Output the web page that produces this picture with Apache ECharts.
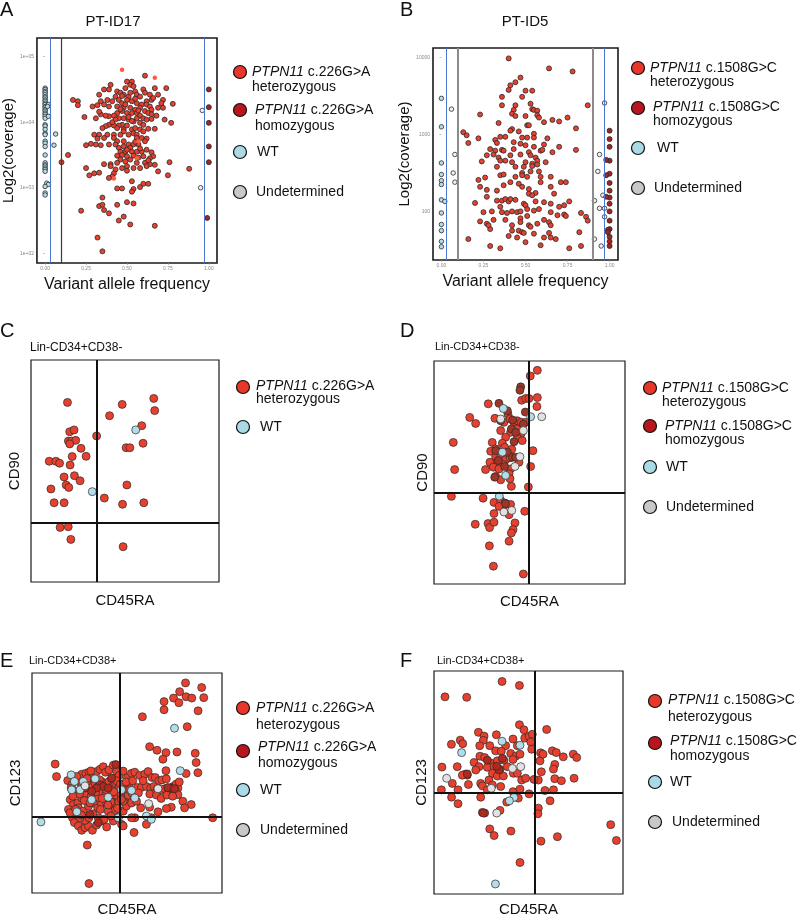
<!DOCTYPE html>
<html><head><meta charset="utf-8">
<script src="https://cdn.jsdelivr.net/npm/echarts@6/dist/echarts.min.js"></script>
<style>html,body{margin:0;padding:0;background:#fff}#c{width:800px;height:918px}</style>
</head><body><div id="c"></div><script>
// ---------- Panel A (PT-ID17): [VAF, log10 coverage] ----------
const aHet = [[0.61,4.71],[0.50,4.62],[0.53,4.62],[0.52,4.57],[0.54,4.55],[0.49,4.52],[0.55,4.47],[0.60,4.50],[0.67,4.52],[0.74,4.52],
[0.40,4.57],[0.39,4.50],[0.36,4.50],[0.33,4.42],[0.44,4.47],[0.46,4.45],[0.48,4.42],[0.43,4.39],[0.51,4.39],[0.56,4.42],
[0.58,4.39],[0.61,4.45],[0.64,4.42],[0.69,4.42],[0.65,4.34],[0.62,4.32],[0.66,4.37],[0.38,4.34],[0.41,4.32],[0.45,4.34],
[0.47,4.29],[0.50,4.34],[0.53,4.32],[0.56,4.29],[0.59,4.27],[0.62,4.27],[0.64,4.24],[0.65,4.19],[0.72,4.34],[0.71,4.29],
[0.78,4.28],[0.72,4.22],[0.69,4.22],[0.17,4.34],[0.20,4.32],[0.20,4.26],[0.29,4.24],[0.32,4.26],[0.34,4.32],[0.36,4.27],
[0.39,4.24],[0.44,4.24],[0.48,4.22],[0.52,4.22],[0.55,4.19],[0.58,4.22],[0.61,4.17],[0.63,4.14],[0.65,4.12],[0.44,4.14],
[0.47,4.17],[0.50,4.14],[0.53,4.14],[0.56,4.14],[0.58,4.10],[0.60,4.06],[0.42,4.10],[0.39,4.09],[0.37,4.10],[0.34,4.12],
[0.31,4.06],[0.33,4.16],[0.24,4.08],[0.68,4.10],[0.73,4.04],[0.77,3.99],[0.65,4.05],[0.62,4.04],[0.56,4.06],[0.51,4.04],
[0.48,4.06],[0.45,4.06],[0.43,4.04],[0.54,4.01],[0.58,3.99],[0.60,3.96],[0.50,3.95],[0.47,3.96],[0.45,3.95],[0.42,3.95],
[0.39,3.96],[0.37,3.94],[0.35,3.91],[0.44,3.91],[0.48,3.89],[0.53,3.89],[0.55,3.91],[0.58,3.89],[0.60,3.86],[0.63,3.90],
[0.67,3.90],[0.54,3.83],[0.56,3.81],[0.51,3.81],[0.46,3.81],[0.42,3.81],[0.38,3.81],[0.33,3.81],[0.30,3.81],[0.32,3.75],
[0.36,3.76],[0.42,3.76],[0.44,3.71],[0.48,3.71],[0.51,3.66],[0.56,3.76],[0.59,3.76],[0.62,3.75],[0.61,3.71],[0.57,3.66],
[0.54,3.66],[0.52,3.61],[0.48,3.63],[0.45,3.61],[0.43,3.66],[0.39,3.66],[0.34,3.65],[0.31,3.66],[0.28,3.67],[0.25,3.65],
[0.46,3.55],[0.49,3.55],[0.53,3.55],[0.56,3.55],[0.59,3.55],[0.62,3.58],[0.65,3.54],[0.66,3.48],[0.64,3.45],[0.60,3.48],
[0.57,3.46],[0.54,3.49],[0.50,3.48],[0.47,3.50],[0.44,3.49],[0.46,3.43],[0.49,3.40],[0.52,3.43],[0.56,3.38],[0.61,3.38],
[0.64,3.36],[0.67,3.35],[0.76,3.39],[0.44,3.38],[0.40,3.36],[0.36,3.36],[0.25,3.30],[0.30,3.22],[0.33,3.23],[0.27,3.19],
[0.40,3.33],[0.43,3.28],[0.42,3.22],[0.41,3.17],[0.39,3.15],[0.50,3.33],[0.54,3.30],[0.50,3.26],[0.58,3.30],[0.62,3.33],
[0.69,3.25],[0.75,3.19],[0.88,3.29],[0.10,3.39],[0.14,3.50],[0.44,2.99],[0.47,2.99],[0.53,3.10],[0.54,2.98],[0.58,3.01],
[0.60,3.06],[0.63,3.06],[0.53,2.94],[0.35,2.85],[0.44,2.74],[0.50,2.78],[0.54,2.76],[0.33,2.72],[0.35,2.74],[0.36,2.66],
[0.39,2.61],[0.22,2.65],[0.45,2.50],[0.48,2.56],[0.52,2.44],[0.67,2.42],[0.32,2.24],[0.35,2.03],
[0.47,4.40],[0.52,4.45],[0.55,4.36],[0.49,4.27],[0.57,4.18],[0.46,4.20],[0.51,4.08],[0.53,4.02],[0.41,4.00],[0.48,3.86],
[0.55,3.70],[0.50,3.58],[0.58,3.60],[0.63,3.42],[0.47,3.30]];
const aHetFaint = [[0.47,4.80],[0.67,4.68],[0.42,3.14],[0.57,3.71],[0.56,3.45]];
const aHom = [[1.0,4.50],[1.0,4.23],[1.0,3.99],[1.0,3.63],[1.0,3.39],[0.99,2.54]];
const aWT = [[0,4.52],[0,4.50],[0,4.47],[0,4.45],[0,4.42],[0,4.39],[0,4.37],[0,4.34],[0,4.32],[0,4.29],[0,4.27],[0,4.24],
[0,4.22],[0,4.19],[0,4.17],[0,4.14],[0,4.12],[0,4.09],[0,4.06],[0.02,4.27],[0.02,4.09],[0.015,4.24],[0,3.96],[0,3.94],
[0,3.89],[0,3.83],[0,3.81],[0,3.71],[0,3.68],[0,3.63],[0,3.50],[0,3.38],[0,3.35],[0,3.33],[0,3.30],[0,3.28],[0,3.25],
[0.01,3.07],[0.02,3.05],[0,3.02],[0,2.92],[0,2.89],[0.064,3.82],[0.054,3.65]];
const aUnd = [[0.96,4.18],[0.95,3.00]];
const aBlueLines = [0.03, 0.97];
const aGrayLines = [0.1];

// ---------- Panel B (PT-ID5) ----------
const bHet = [[0.40,3.99],[0.64,3.86],[0.78,3.82],[0.47,3.74],[0.44,3.68],[0.41,3.64],[0.40,3.58],[0.50,3.57],[0.54,3.57],[0.36,3.49],
[0.48,3.49],[0.36,3.38],[0.44,3.38],[0.53,3.40],[0.54,3.33],[0.55,3.32],[0.57,3.31],[0.43,3.32],[0.42,3.27],[0.44,3.24],
[0.50,3.24],[0.57,3.25],[0.58,3.22],[0.23,3.26],[0.87,3.38],[0.75,3.22],[0.70,3.17],[0.66,3.19],[0.61,3.16],[0.34,3.15],
[0.51,3.12],[0.52,3.12],[0.42,3.07],[0.41,3.05],[0.80,3.08],[0.13,3.03],[0.15,2.99],[0.16,2.89],[0.22,2.95],[0.32,2.93],
[0.35,2.97],[0.38,2.97],[0.46,3.04],[0.48,2.96],[0.51,2.96],[0.55,3.01],[0.55,2.96],[0.33,2.89],[0.43,2.90],[0.47,2.88],
[0.50,2.86],[0.55,2.84],[0.63,2.95],[0.61,2.87],[0.70,2.84],[0.80,2.80],[0.29,2.81],[0.32,2.79],[0.36,2.80],[0.37,2.79],
[0.43,2.81],[0.52,2.77],[0.59,2.79],[0.60,2.80],[0.66,2.77],[0.27,2.73],[0.31,2.74],[0.34,2.70],[0.41,2.73],[0.47,2.74],
[0.53,2.73],[0.56,2.70],[0.57,2.66],[0.24,2.65],[0.35,2.66],[0.38,2.66],[0.42,2.64],[0.50,2.64],[0.54,2.62],[0.62,2.64],
[0.33,2.58],[0.44,2.58],[0.49,2.58],[0.54,2.59],[0.57,2.61],[0.53,2.52],[0.48,2.50],[0.58,2.52],[0.35,2.47],[0.37,2.48],
[0.44,2.45],[0.48,2.47],[0.51,2.45],[0.59,2.45],[0.65,2.45],[0.71,2.38],[0.74,2.38],[0.22,2.41],[0.26,2.44],[0.23,2.32],
[0.27,2.28],[0.33,2.27],[0.37,2.34],[0.41,2.38],[0.46,2.36],[0.48,2.32],[0.52,2.29],[0.56,2.24],[0.59,2.38],[0.65,2.32],
[0.67,2.23],[0.27,2.19],[0.33,2.14],[0.36,2.14],[0.38,2.16],[0.40,2.13],[0.41,2.16],[0.44,2.15],[0.49,2.10],[0.50,2.08],
[0.52,2.23],[0.54,2.21],[0.56,2.13],[0.61,2.12],[0.65,2.10],[0.70,2.06],[0.73,2.08],[0.76,2.13],[0.20,2.11],[0.25,1.99],
[0.30,2.00],[0.35,2.06],[0.36,1.99],[0.39,1.98],[0.42,2.00],[0.45,1.99],[0.47,2.00],[0.51,2.03],[0.55,2.01],[0.58,2.03],
[0.65,1.99],[0.69,1.95],[0.73,1.96],[0.74,1.94],[0.83,1.98],[0.86,1.93],[0.87,1.88],[0.23,1.87],[0.27,1.84],[0.29,1.77],
[0.28,1.82],[0.31,1.89],[0.38,1.89],[0.42,1.82],[0.42,1.75],[0.47,1.91],[0.47,1.86],[0.46,1.75],[0.48,1.73],[0.49,1.72],
[0.51,1.94],[0.52,1.82],[0.53,1.80],[0.55,1.71],[0.57,1.84],[0.61,1.89],[0.64,1.86],[0.65,1.82],[0.64,1.72],[0.65,1.66],
[0.68,1.64],[0.59,1.56],[0.40,1.68],[0.45,1.66],[0.50,1.60],[0.61,1.66],[0.16,1.64],[0.29,1.55],[0.35,1.52],[0.76,1.52],
[0.83,1.55],[0.82,1.73]];
const bHom = [[1.0,3.05],[1.0,2.94],[1.0,2.84],[1.0,2.66],[1.0,2.49],[1.0,2.37],[1.0,2.27],[1.0,2.18],[1.0,2.10],[1.0,2.00],
[1.0,1.88],[1.0,1.77],[1.0,1.67],[1.0,1.61],[1.0,1.55],[0.98,2.47],[0.98,2.67],[0.98,2.19],[0.99,1.76],[0.99,1.73]];
const bWT = [[0,3.47],[0,3.10],[0,2.63],[0,2.48],[0,2.40],[0,2.35],[0,2.15],[0.02,2.13],[0,1.98],[0,1.83],[0,1.75],[0,1.61],[0,1.54]];
const bUnd = [[0.06,3.33],[0.08,2.74],[0.07,2.50],[0.08,2.38],[0.97,3.41],[0.94,2.74],[0.93,2.52],[0.91,2.14],[0.94,2.04],
[0.97,2.04],[0.96,2.21],[0.97,1.93],[0.91,1.64],[0.95,1.55]];
const bBlueLines = [0.03, 0.97];
const bGrayLines = [0.1, 0.9];

const vafTicks = [0, 0.25, 0.5, 0.75, 1];
const aCovTicks = [2, 3, 4, 5];
const bCovTicks = [2, 3, 4];

// ---------- Panel C (CD45RA vs CD90, Lin-CD34+CD38-) ----------
const cHet = [[19.4,80.9],[48.5,80.0],[65.3,82.7],[65.8,77.2],[41.8,74.9],[58.9,70.4],[20.6,67.7],[22.9,68.5],[34.9,65.8],[19.9,63.5],
[21.5,63.5],[23.8,63.8],[20.6,62.2],[26.6,60.2],[50.6,60.5],[52.6,60.5],[59.6,62.5],[21.9,56.5],[29.3,56.6],[9.7,54.4],
[13.2,54.4],[15.2,53.5],[20.8,52.7],[17.6,47.3],[23.1,47.9],[26.1,45.6],[18.7,43.7],[20.1,42.6],[10.6,41.9],[51.0,43.7],
[39.0,37.8],[12.3,35.7],[17.6,35.7],[48.7,35.0],[60.0,35.7],[15.5,24.6],[19.8,24.9],[21.2,19.2],[49.0,15.9]];
const cWT = [[55.7,68.5],[32.6,40.7]];
const cGate = [34.9, 26.6];

// ---------- Panel D ----------
const dHet = [[54.1,95.8],[50.4,93.3],[45.9,82.4],[48.0,83.2],[49.7,83.2],[54.1,83.6],[53.9,79.6],[28.4,80.8],[18.7,74.7],[21.8,72.0],
[31.9,74.3],[36.6,72.5],[38.7,76.2],[39.8,74.0],[41.9,72.5],[43.6,73.2],[45.7,72.5],[48.0,72.5],[34.9,68.8],[40.1,68.0],
[43.3,69.5],[45.7,67.6],[43.6,65.5],[46.2,64.3],[37.5,65.8],[10.1,63.5],[30.5,63.5],[35.8,63.1],[37.0,61.3],[32.3,60.6],
[29.7,59.5],[34.0,59.1],[40.7,60.4],[51.8,59.8],[32.3,57.1],[34.9,56.8],[37.5,55.7],[39.8,56.6],[29.3,54.6],[33.2,54.6],
[36.3,53.6],[44.5,54.6],[10.8,51.3],[27.0,51.3],[31.1,52.4],[34.0,51.6],[40.1,51.6],[50.6,52.7],[32.3,48.2],[34.9,46.7],
[39.3,49.4],[39.8,47.2],[40.5,43.8],[49.4,43.5],[9.1,39.3],[25.7,38.5],[31.4,36.6],[34.9,37.5],[37.2,36.3],[40.1,35.7],
[36.3,34.5],[34.0,34.8],[47.5,32.6],[39.3,31.1],[31.4,31.6],[21.6,26.8],[28.3,27.1],[29.1,25.3],[31.4,27.7],[42.4,27.4],
[41.4,24.4],[40.5,22.9],[39.3,19.2],[29.0,17.1],[31.1,8.0],[46.8,4.5]];
const dHom = [[45.4,88.4],[45.0,86.9],[34.0,81.0],[38.4,77.7],[47.8,77.1],[34.9,73.2],[41.2,73.5],[46.8,71.7],[40.5,69.5],[42.8,68.0],
[41.9,63.8],[38.4,59.1],[41.0,56.8],[42.8,56.8],[32.3,59.8],[37.0,52.7],[33.7,55.4],[37.5,36.0],[31.8,47.9]];
const dWT = [[36.3,78.7],[50.6,75.0],[35.8,59.1],[37.5,48.7],[34.2,39.4]];
const dUnd = [[34.9,74.0],[56.4,75.0],[46.8,68.8],[45.0,57.1],[42.4,52.7],[40.7,33.0],[36.6,32.3]];
const dGate = [49.4, 40.8];

// ---------- Panel E (CD45RA vs CD123, Lin-CD34+CD38+) ----------
const eHet = [[80.8,95.5],[77.7,91.5],[89.3,93.4],[69.5,87.0],[74.5,88.6],[77.3,86.5],[81.1,89.2],[84.1,88.6],[90.4,88.8],[69.5,83.3],
[87.4,82.8],[58.1,80.1],[81.7,75.6],[61.9,66.5],[65.8,64.9],[70.5,63.8],[76.3,64.1],[85.9,63.5],[68.9,60.8],[86.4,59.3],
[70.5,55.6],[81.1,54.3],[87.3,54.7],[12.2,58.6],[12.9,52.9],
[18.8,51.1],[20.9,49.2],[22.7,51.9],[24.4,50.7],[26.2,54.0],[28.3,54.4],[30.0,54.9],[32.3,52.5],[34.0,55.2],[35.8,56.2],
[37.5,57.4],[38.7,54.9],[40.5,55.9],[42.8,58.1],[44.5,55.2],[45.9,53.4],[48.0,55.4],[50.3,52.5],[52.4,54.4],[54.1,54.9],
[56.7,53.4],[59.3,54.0],[61.1,55.2],[63.2,52.5],[64.9,52.5],[66.7,51.0],[68.4,51.4],[70.7,51.9],[74.2,48.4],[75.9,49.5],
[76.8,47.7],[55.5,48.0],[57.6,48.0],[60.2,48.4],[62.5,47.7],[64.2,48.4],[66.0,47.4],[68.1,46.9],[69.8,47.4],[71.5,47.7],
[73.3,46.2],[75.4,46.9],[76.8,44.7],[79.4,41.7],[83.8,40.2],[80.3,38.7],[73.3,39.0],[70.7,38.4],[66.3,36.9],[61.9,39.0],
[57.2,38.7],[54.1,34.2],[52.4,34.2],[47.1,31.2],[48.0,30.5],[53.7,27.5],[60.2,31.2],[62.8,34.2],[20.6,47.7],[22.7,46.2],
[20.1,42.4],[21.8,40.2],[24.1,40.9],[26.2,43.2],[27.9,45.4],[29.7,47.7],[31.4,49.2],[33.2,49.9],[34.9,48.4],[36.6,50.7],
[38.4,49.2],[40.5,50.7],[42.2,48.4],[44.0,49.9],[45.7,47.7],[47.5,48.4],[49.2,46.9],[51.0,49.2],[26.2,48.4],[28.8,50.7],
[31.1,43.9],[33.2,44.7],[34.9,43.2],[36.6,45.9],[38.7,44.4],[41.0,45.4],[43.3,43.2],[45.0,43.9],[46.8,45.0],[48.9,43.2],
[50.6,44.4],[52.7,45.4],[24.4,38.7],[27.0,37.2],[29.7,39.5],[32.3,40.9],[34.6,38.7],[36.6,40.5],[39.3,40.9],[41.5,39.5],
[43.6,40.9],[21.3,34.2],[22.3,32.0],[24.4,30.5],[26.2,28.5],[27.9,29.7],[29.7,30.5],[31.8,28.5],[34.0,30.9],[36.6,32.7],
[39.3,30.0],[42.8,32.7],[45.4,34.2],[27.9,33.0],[30.0,34.2],[34.9,34.2],[25.3,34.2],[19.2,38.0],[29.1,21.8],[30.0,4.3],
[95.1,34.2],[41.5,41.4],[45.7,41.4],[43.6,37.5],[40.1,37.2],[48.0,37.2],[49.7,39.5],[52.4,40.9],[55.0,41.7],[48.0,41.7],
[23.5,53.0],[25.0,45.0],[29.0,52.0],[31.0,55.5],[33.5,46.0],[35.5,51.5],[37.0,43.0],[39.0,47.0],[42.0,52.0],[43.0,46.0],
[44.5,51.0],[46.5,49.5],[21.5,44.0],[27.5,42.0],[30.5,41.0],[36.0,38.0],[40.0,40.0],[45.0,38.5],[47.0,42.5],[49.5,50.5],
[51.5,47.0],[53.0,51.0],[58.5,51.0],[62.0,45.0],[65.5,44.5],[68.0,43.0],[71.0,44.5],[74.0,44.0],[77.5,50.5],[56.0,45.5],
[32.0,36.0],[26.0,35.5],[38.0,33.5],[41.5,35.0],[20.0,36.5],[23.0,38.0]];
const eHom = [[44.1,58.4],[72.9,47.7],[35.8,49.2],[37.5,48.4],[34.0,47.7],[40.1,47.7],[31.4,46.2],[30.5,35.7],[34.9,32.0],[71.5,47.9],
[75.0,47.4],[41.9,52.2],[27.9,47.7]];
const eWT = [[4.7,32.3],[20.6,53.7],[33.2,51.9],[23.6,36.9],[75.0,74.9],[78.0,55.6],[52.4,46.6],[54.1,43.2],[60.2,35.0],[62.8,33.5],
[20.9,46.9],[25.3,46.9],[31.4,42.4],[40.1,43.5],[47.1,46.9],[27.0,50.7],[45.4,34.2],[22.3,50.7]];
const eUnd = [[27.9,48.7],[61.4,40.6],[66.3,47.4]];
const eGate = [46.2, 34.7];

// ---------- Panel F ----------
const fHet = [[36.0,95.3],[45.2,93.5],[5.8,88.4],[17.3,88.2],[45.2,75.9],[47.6,73.6],[59.6,73.8],[23.5,72.5],[26.5,70.8],[33.0,71.4],
[26.1,68.9],[13.9,69.0],[15.2,67.4],[9.2,67.1],[41.8,69.5],[48.0,69.9],[50.3,70.7],[52.0,71.6],[51.2,68.2],[51.7,64.9],
[24.2,66.5],[29.5,66.5],[37.9,66.5],[44.1,66.5],[32.6,64.2],[35.6,64.0],[40.6,63.0],[43.2,61.8],[45.5,62.7],[24.3,61.8],
[26.8,61.2],[21.2,59.0],[30.0,58.8],[33.5,59.7],[37.0,60.0],[41.8,60.3],[23.8,57.1],[28.2,56.8],[31.8,57.1],[34.9,55.9],
[38.8,57.1],[4.2,56.9],[12.3,57.1],[16.8,53.8],[17.6,53.3],[22.1,55.6],[15.0,53.3],[30.9,54.1],[33.5,52.9],[36.7,52.9],
[42.0,54.1],[44.1,54.1],[46.4,51.1],[48.5,51.9],[55.2,51.1],[9.7,49.6],[12.7,46.7],[18.2,49.1],[24.7,49.6],[25.6,48.5],
[29.1,51.1],[30.9,48.9],[35.3,48.2],[3.9,46.7],[28.2,46.7],[41.8,45.9],[45.5,47.0],[50.3,44.9],[52.9,51.4],[56.1,59.7],
[56.4,63.3],[57.7,62.7],[62.6,64.2],[64.7,63.4],[68.4,61.5],[73.7,62.7],[75.5,61.2],[63.9,58.1],[63.2,56.0],[56.8,54.8],
[63.9,51.7],[67.4,50.8],[74.1,51.9],[58.7,46.4],[63.2,46.7],[9.3,43.4],[12.7,40.5],[24.7,43.4],[38.5,41.2],[44.6,43.0],
[34.9,37.5],[25.6,36.6],[26.8,36.3],[55.2,38.5],[55.0,36.0],[61.4,41.8],[29.5,29.2],[31.8,26.2],[40.7,28.2],[56.6,23.7],
[65.3,25.7],[93.5,31.1],[96.5,24.0],[45.5,14.1]];
const fHom = [[36.2,60.8],[34.4,55.6],[17.6,53.8],[26.1,36.3],[28.2,60.0],[33.2,57.3]];
const fWT = [[36.0,68.5],[14.6,63.4],[45.5,66.7],[42.3,43.3],[39.9,41.8],[32.5,4.5]];
const fUnd = [[6.7,51.9],[30.3,47.4],[33.2,36.3],[41.5,56.3],[45.9,57.1]];
const fGate = [53.3, 45.2];

// ---------- build ----------
const FF = '"Liberation Sans", Arial, sans-serif';
const COL = {het:'#e8402f', hom:'#a3231d', wt:'#b3dde8', und:'#d9d9d9',
             lhet:'#e8372a', lhom:'#b8151f', lwt:'#a8dbe6', lund:'#c8c8c8'};

const grids = [
  {left:33, top:38, width:184, height:225, borderWidth:1.6},
  {left:433, top:48, width:185, height:212, borderWidth:1.6},
  {left:31, top:360, width:188, height:222, borderWidth:1.2},
  {left:434, top:361, width:191, height:223, borderWidth:1.2},
  {left:32, top:673, width:190, height:222, borderWidth:1.2},
  {left:434, top:671, width:189, height:225, borderWidth:1.2}
].map(g => Object.assign({show:true, borderColor:'#1a1a1a', backgroundColor:'transparent'}, g));

const nameStyle = {fontFamily:FF, fontSize:15, color:'#111'};
function vafX(i){
  return {gridIndex:i, type:'value', min:-0.05, max:1.05, name:'Variant allele frequency', nameLocation:'middle', nameGap:14,
    nameTextStyle:Object.assign({}, nameStyle, {fontSize:16}),
    axisLine:{show:false}, splitLine:{show:false},
    axisTick:{show:true, customValues:vafTicks, length:2, lineStyle:{color:'#999', width:0.6}},
    axisLabel:{show:true, customValues:vafTicks, formatter:v=>v.toFixed(2), fontSize:5, color:'#888', margin:3, fontFamily:FF}};
}
function covY(i, min, max, ticks, fmt, gap){
  return {gridIndex:i, type:'value', min, max, name:'Log2(coverage)', nameLocation:'middle', nameGap:gap, nameRotate:90,
    nameTextStyle:nameStyle, axisLine:{show:false}, splitLine:{show:false},
    axisTick:{show:true, customValues:ticks, length:2, lineStyle:{color:'#999', width:0.6}},
    axisLabel:{show:true, customValues:ticks, formatter:fmt, fontSize:5, color:'#888', margin:3, fontFamily:FF}};
}
function flowX(i, gap){
  return {gridIndex:i, type:'value', min:0, max:100, name:'CD45RA', nameLocation:'middle', nameGap:gap, nameTextStyle:nameStyle,
    axisLine:{show:false}, axisTick:{show:false}, axisLabel:{show:false}, splitLine:{show:false}};
}
function flowY(i, name, gap){
  return {gridIndex:i, type:'value', min:0, max:100, name, nameLocation:'middle', nameGap:gap, nameRotate:90, nameTextStyle:nameStyle,
    axisLine:{show:false}, axisTick:{show:false}, axisLabel:{show:false}, splitLine:{show:false}};
}
const xAxes = [vafX(0), vafX(1), flowX(2,11), flowX(3,10), flowX(4,9), flowX(5,8)];
const yAxes = [
  covY(0, 1.852, 5.285, aCovTicks, v=>'1e+0'+v, 16),
  covY(1, 1.368, 4.125, bCovTicks, v=>String(Math.round(Math.pow(10,v))), 17),
  flowY(2,'CD90',9), flowY(3,'CD90',4), flowY(4,'CD123',9), flowY(5,'CD123',5)];

function sc(data, gi, color, size, bw, z){
  return {type:'scatter', data, xAxisIndex:gi, yAxisIndex:gi, symbolSize:size, silent:true, z:z||3,
    itemStyle:{color, borderColor: bw ? '#2a2a2a' : color, borderWidth: bw, opacity:1}};
}
function lines(gi, items, z){
  return {type:'scatter', data:[], xAxisIndex:gi, yAxisIndex:gi, silent:true, z:z,
    markLine:{silent:true, symbol:'none', animation:false, label:{show:false}, data:items}};
}
function vline(v, color, w){ return {xAxis:v, lineStyle:{color, width:w, type:'solid'}}; }
function hline(v, color, w){ return {yAxis:v, lineStyle:{color, width:w, type:'solid'}}; }

const series = [
  lines(0, aBlueLines.map(v=>vline(v,'#4a78d0',1)).concat(aGrayLines.map(v=>vline(v,'#3a3a3a',1.2))), 1),
  sc(aWT,0,COL.wt,4.5,0.8), sc(aUnd,0,'#f2f2f2',4.5,0.8), sc(aHet,0,COL.het,5,0.8), sc(aHom,0,COL.hom,5,0.8), sc(aHetFaint,0,'#ff5a40',4.5,0,4),
  lines(1, bBlueLines.map(v=>vline(v,'#4a78d0',1)).concat(bGrayLines.map(v=>vline(v,'#8c8c8c',2))), 1),
  sc(bWT,1,COL.wt,4.5,0.8), sc(bUnd,1,'#f2f2f2',4.5,0.8), sc(bHet,1,COL.het,5,0.8), sc(bHom,1,COL.hom,5,0.8),
  sc(cHet,2,COL.het,8,0.7), sc(cWT,2,COL.wt,8,0.7),
  lines(2,[vline(cGate[0],'#111',2),hline(cGate[1],'#111',2)],6),
  sc(dHet,3,COL.het,8,0.7), sc(dHom,3,'#9e3526',8,0.7), sc(dWT,3,COL.wt,8,0.7), sc(dUnd,3,'#e2e2e2',8,0.7),
  lines(3,[vline(dGate[0],'#111',2),hline(dGate[1],'#111',2)],6),
  sc(eHet,4,COL.het,8,0.7), sc(eHom,4,'#b0281e',8,0.7), sc(eWT,4,COL.wt,8,0.7), sc(eUnd,4,'#e2e2e2',8,0.7),
  lines(4,[vline(eGate[0],'#111',2),hline(eGate[1],'#111',2)],6),
  sc(fHet,5,COL.het,8,0.7), sc(fHom,5,'#b0281e',8,0.7), sc(fWT,5,COL.wt,8,0.7), sc(fUnd,5,'#e2e2e2',8,0.7),
  lines(5,[vline(fGate[0],'#111',2),hline(fGate[1],'#111',2)],6)
];

// ---------- text & legends ----------
const g = [];
function txt(x, y, text, size, opts){
  g.push(Object.assign({type:'text', x, y, silent:true,
    style:Object.assign({text, fontFamily:FF, fontSize:size, fill:'#111', align:'left', verticalAlign:'middle'}, (opts||{}))}));
}
[['A',0,10],['B',400,10],['C',0,331],['D',400,331],['E',0,661],['F',400,661]].forEach(p=>txt(p[1],p[2],p[0],20));
txt(113,22,'PT-ID17',15,{align:'center'});
txt(525,22,'PT-ID5',15,{align:'center'});
txt(30,348,'Lin-CD34+CD38-',12);
txt(435,347,'Lin-CD34+CD38-',11);
txt(29,661,'Lin-CD34+CD38+',11);
txt(437,661,'Lin-CD34+CD38+',11);

function dot(cx, cy, fill){
  g.push({type:'circle', silent:true, shape:{cx, cy, r:6.5}, style:{fill, stroke:'#111', lineWidth:1.2}});
}
function mut(x, y, variant, second, tx2){
  g.push({type:'text', x, y, silent:true, style:{text:'{i|PTPN11} '+variant, fontFamily:FF, fontSize:14, fill:'#111',
    align:'left', verticalAlign:'middle', rich:{i:{fontStyle:'italic', fontFamily:FF, fontSize:14, fill:'#111'}}}});
  txt(x, y + tx2, second, 14);
}
function legend(cx, ys, tx, variant, full, tys){
  dot(cx, ys[0], COL.lhet); mut(tx[0], tys[0], variant, 'heterozygous', tys[1]);
  let k = 1;
  if (full){ dot(cx, ys[1], COL.lhom); mut(tx[1], tys[2], variant, 'homozygous', tys[3]); k = 2; }
  dot(cx, ys[k], COL.lwt); txt(tx[2], ys[k], 'WT', 14);
  if (full){ dot(cx, ys[3], COL.lund); txt(tx[3], ys[3], 'Undetermined', 14); }
}
legend(240,[72,110,152,192],[252,255,257,256],'c.226G>A',true,[72,15,110,16]);
legend(638,[68,108,148,188],[650,653,657,654],'c.1508G>C',true,[68,14,107,14]);
legend(243,[387,427],[256,256,260,260],'c.226G>A',false,[386,13]);
legend(650,[388,426,467,507],[662,665,666,666],'c.1508G>C',true,[388,14,426,14]);
legend(243,[708,751,790,830],[256,258,260,260],'c.226G>A',true,[708,17,747,16]);
legend(655,[701,743,782,822],[668,670,670,672],'c.1508G>C',true,[700,17,741,15]);

const chart = echarts.init(document.getElementById('c'), null, {renderer:'canvas'});
chart.setOption({animation:false, backgroundColor:'#fff', grid:grids, xAxis:xAxes, yAxis:yAxes, series, graphic:g});
</script></body></html>
